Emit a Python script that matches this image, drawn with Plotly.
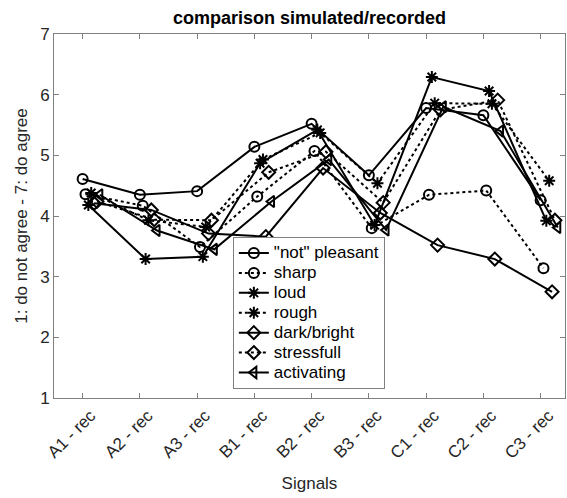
import plotly.graph_objects as go

signals = ["A1 - rec", "A2 - rec", "A3 - rec", "B1 - rec", "B2 - rec",
           "B3 - rec", "C1 - rec", "C2 - rec", "C3 - rec"]

not_pleasant = [4.61, 4.35, 4.41, 5.14, 5.52, 4.67, 5.78, 5.66, 4.26]
sharp        = [4.36, 4.17, 3.49, 4.32, 5.07, 3.80, 4.35, 4.42, 3.14]
loud         = [4.18, 3.29, 3.33, 4.87, 5.42, 3.85, 6.29, 6.06, 3.92]
rough        = [4.38, 3.93, 3.82, 4.93, 5.37, 4.54, 5.86, 5.85, 4.58]
dark_bright  = [4.21, 4.10, 3.71, 3.66, 4.79, 4.05, 3.52, 3.29, 2.75]
stressfull   = [4.24, 3.94, 3.93, 4.72, 5.06, 4.22, 5.75, 5.91, 3.93]
activating   = [4.35, 3.76, 3.45, 4.24, 4.93, 3.77, 5.80, 5.40, 3.81]

series = [
    ('"not" pleasant', not_pleasant, "solid", "circle-open"),
    ("sharp", sharp, "dot", "circle-open"),
    ("loud", loud, "solid", "asterisk-open"),
    ("rough", rough, "dot", "asterisk-open"),
    ("dark/bright", dark_bright, "solid", "diamond-open"),
    ("stressfull", stressfull, "dot", "diamond-open"),
    ("activating", activating, "solid", "triangle-left-open"),
]

FONT = "Liberation Sans, Arial, Helvetica, sans-serif"
AX = "#808080"
TXT = "#262626"

fig = go.Figure()
for k, (name, vals, dash, sym) in enumerate(series):
    xs = [i + 1 + k * 0.05 for i in range(len(vals))]
    fig.add_trace(go.Scatter(
        x=xs, y=vals, mode="lines+markers",
        name='<span style="font-size:17px">' + name + "</span>",
        line=dict(color="black", width=2, dash=dash),
        marker=dict(symbol=sym, size=10, color="black",
                    line=dict(width=2, color="black")),
    ))

fig.update_layout(
    width=567, height=498,
    margin=dict(l=54, r=2, t=34, b=100),
    paper_bgcolor="white", plot_bgcolor="white",
    font=dict(family=FONT, size=17, color=TXT),
    title=dict(text="<b>comparison simulated/recorded</b>",
               x=0.5, xref="paper", xanchor="center",
               y=1 - 18 / 498, yref="container", yanchor="middle",
               font=dict(family=FONT, size=18, color="black")),
    showlegend=True,
    legend=dict(x=0.350, y=0.442, xanchor="left", yanchor="top",
                bgcolor="white", bordercolor=AX, borderwidth=1,
                font=dict(family=FONT, size=13, color="black"),
                tracegroupgap=0),
)
fig.update_xaxes(
    range=[0.5, 9.426], tickmode="array",
    tickvals=list(range(1, len(signals) + 1)), ticktext=signals,
    tickangle=-45, ticks="inside", ticklen=5, tickcolor=AX,
    ticklabelshift=8,
    showline=True, linecolor=AX, linewidth=1, mirror="ticks",
    showgrid=False, zeroline=False,
    title=dict(text="Signals", font=dict(family=FONT, size=17, color=TXT)),
    tickfont=dict(family=FONT, size=17, color=TXT),
)
fig.update_yaxes(
    range=[1, 7], tickmode="array", tickvals=[1, 2, 3, 4, 5, 6, 7],
    ticks="inside", ticklen=5, tickcolor=AX,
    showline=True, linecolor=AX, linewidth=1, mirror="ticks",
    showgrid=False, zeroline=False,
    title=dict(text="1: do not agree - 7: do agree",
               font=dict(family=FONT, size=17, color=TXT), standoff=8),
    tickfont=dict(family=FONT, size=17, color=TXT),
)

fig.write_html("out.html")
